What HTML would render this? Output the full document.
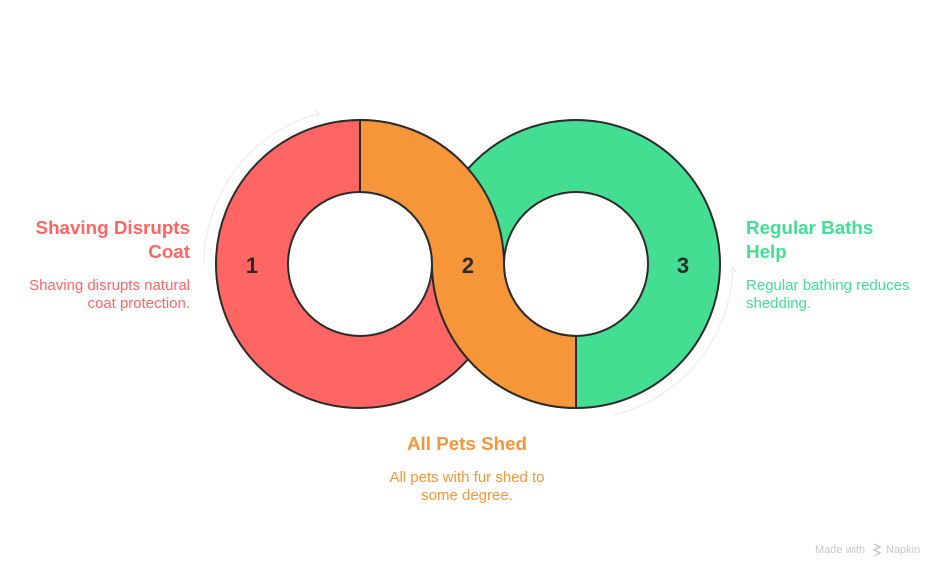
<!DOCTYPE html>
<html><head><meta charset="utf-8"><style>
html,body{margin:0;padding:0;background:#fff;}
body{width:948px;height:576px;position:relative;overflow:hidden;font-family:"Liberation Sans",sans-serif;}
</style></head><body>
<svg width="948" height="576" viewBox="0 0 948 576" style="position:absolute;left:0;top:0">
<defs>
<marker id="ah" markerWidth="10" markerHeight="10" refX="6" refY="5" orient="auto" markerUnits="userSpaceOnUse">
<path d="M1,1 L6,5 L1,9" fill="none" stroke="#eeeeee" stroke-width="1.5"/>
</marker>
</defs>
<path d="M204,265 A156 156 0 0 1 320,113" fill="none" stroke="#f0f0f0" stroke-width="1.5" marker-end="url(#ah)"/>
<path d="M614,415 A157 157 0 0 0 733,268" fill="none" stroke="#f0f0f0" stroke-width="1.5" marker-end="url(#ah)"/>
<path fill-rule="evenodd" d="M216,264 a144 144 0 1 0 288 0 a144 144 0 1 0 -288 0 Z M288,264 a72 72 0 1 0 144 0 a72 72 0 1 0 -144 0 Z" fill="#FF6663" stroke="#2b2b2b" stroke-width="2"/>
<path fill-rule="evenodd" d="M432,264 a144 144 0 1 0 288 0 a144 144 0 1 0 -288 0 Z M504,264 a72 72 0 1 0 144 0 a72 72 0 1 0 -144 0 Z" fill="#43DE91" stroke="#2b2b2b" stroke-width="2"/>
<path d="M360,120 A144 144 0 0 1 504,264 A72 72 0 0 0 576,336 L576,408 A144 144 0 0 1 432,264 A72 72 0 0 0 360,192 Z" fill="#F79638" stroke="#2b2b2b" stroke-width="2" stroke-linejoin="round"/>
<g font-family="Liberation Sans, sans-serif" font-weight="bold" font-size="22" fill="#2b2b2b" text-anchor="middle">
<text x="252" y="273">1</text><text x="468" y="273">2</text><text x="683" y="273">3</text>
</g>
<g font-family="Liberation Sans, sans-serif">
<text x="190" y="234" text-anchor="end" font-weight="bold" font-size="18.8" fill="#FF6663">Shaving Disrupts</text>
<text x="190" y="258" text-anchor="end" font-weight="bold" font-size="18.8" fill="#FF6663">Coat</text>
<text x="190" y="290" text-anchor="end" font-size="15" fill="#FF6663">Shaving disrupts natural</text>
<text x="190" y="308" text-anchor="end" font-size="15" fill="#FF6663">coat protection.</text>
<text x="746" y="234" font-weight="bold" font-size="18.8" fill="#43DE91">Regular Baths</text>
<text x="746" y="258" font-weight="bold" font-size="18.8" fill="#43DE91">Help</text>
<text x="746" y="290" font-size="15" fill="#43DE91">Regular bathing reduces</text>
<text x="746" y="308" font-size="15" fill="#43DE91">shedding.</text>
<text x="467" y="450" text-anchor="middle" font-weight="bold" font-size="18.8" fill="#F79638">All Pets Shed</text>
<text x="467" y="482" text-anchor="middle" font-size="15" fill="#F79638">All pets with fur shed to</text>
<text x="467" y="500" text-anchor="middle" font-size="15" fill="#F79638">some degree.</text>
<text x="815" y="553" font-size="11" fill="#c8c8c8">Made with</text>
<text x="886" y="553" font-size="11" fill="#c8c8c8">Napkin</text>
<path d="M874,544 l6,3 l-6,3 l6,3 l-6,3" fill="none" stroke="#c8c8c8" stroke-width="1.5"/>
</g>
</svg>
</body></html>
